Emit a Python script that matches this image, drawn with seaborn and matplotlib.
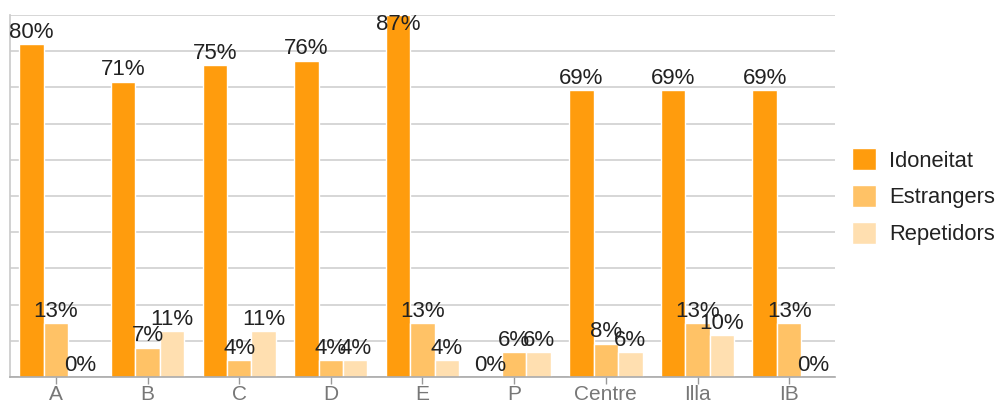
import numpy as np
import pandas as pd
import matplotlib
matplotlib.use("Agg")
import matplotlib.pyplot as plt
import seaborn as sns

categories = ["A", "B", "C", "D", "E", "P", "Centre", "Illa", "IB"]
idoneitat = [80, 71, 75, 76, 87, 0, 69, 69, 69]
estrangers = [13, 7, 4, 4, 13, 6, 8, 13, 13]
repetidors = [0, 11, 11, 4, 4, 6, 6, 10, 0]
series_names = ["Idoneitat", "Estrangers", "Repetidors"]
colors = ["#FF9C0D", "#FFC266", "#FFDFB0"]

df = pd.DataFrame({
    "cat": np.repeat(categories, 3),
    "serie": series_names * len(categories),
    "val": np.ravel(np.column_stack([idoneitat, estrangers, repetidors])),
})

sns.set_theme(style="white")
plt.rcParams["font.family"] = ["Liberation Sans", "DejaVu Sans"]

W, H = 999, 404
fig = plt.figure(figsize=(W / 100, H / 100), dpi=100)
ax = fig.add_axes([10 / W, (H - 377) / H, 825 / W, 362 / H])

sns.barplot(data=df, x="cat", y="val", hue="serie", order=categories,
            hue_order=series_names, palette=colors, width=0.8,
            edgecolor="white", linewidth=1, saturation=1, ax=ax)

ymax = max(idoneitat)

# value labels above bars; the tallest one is pushed inside the plot area
for cont in ax.containers:
    for bar in cont:
        h = bar.get_height()
        x = bar.get_x() + bar.get_width() / 2
        if h >= ymax:
            ax.annotate(f"{h:.0f}%", (x, ymax), xytext=(0, 1),
                        textcoords="offset points", ha="center", va="top",
                        fontsize=16, color="#222222")
        else:
            ax.annotate(f"{h:.0f}%", (x, h), xytext=(0, 1),
                        textcoords="offset points", ha="center", va="bottom",
                        fontsize=16, color="#222222")

ax.set_ylim(0, ymax)
ax.set_yticks(np.linspace(0, ymax, 11))
ax.set_yticklabels([])
ax.tick_params(axis="y", length=0)
ax.yaxis.grid(True, color="#d0d0d0", linewidth=1.2)
ax.set_axisbelow(True)
ax.set_xlim(-0.5, len(categories) - 0.5)

ax.tick_params(axis="x", length=5, width=1, color="#999999", labelsize=15,
               labelcolor="#777777", pad=1, bottom=True)
ax.set_xlabel("")
ax.set_ylabel("")
for side in ["top", "right"]:
    ax.spines[side].set_visible(False)
ax.spines["left"].set_color("#cccccc")
ax.spines["bottom"].set_color("#aaaaaa")
ax.spines["bottom"].set_linewidth(1.2)

handles, labels = ax.get_legend_handles_labels()
ax.get_legend().remove()
fig.legend(handles, labels, loc="upper left",
           bbox_to_anchor=(852 / W, 1 - 148 / H), frameon=False,
           fontsize=15.8, handlelength=1.1, handleheight=1.2,
           handletextpad=0.6, labelspacing=0.6, borderpad=0,
           borderaxespad=0, labelcolor="#222222")

fig.savefig("out.png", dpi=100)
